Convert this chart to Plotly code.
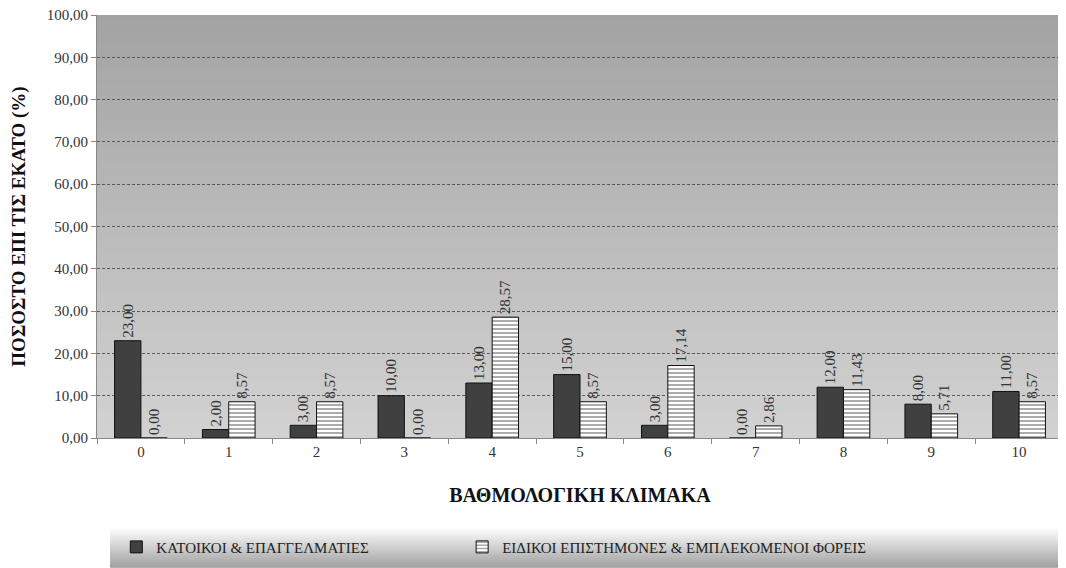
import plotly.graph_objects as go

categories = ["0", "1", "2", "3", "4", "5", "6", "7", "8", "9", "10"]
residents = [23.00, 2.00, 3.00, 10.00, 13.00, 15.00, 3.00, 0.00, 12.00, 8.00, 11.00]
experts = [0.00, 8.57, 8.57, 0.00, 28.57, 8.57, 17.14, 2.86, 11.43, 5.71, 8.57]
series_names = ["ΚΑΤΟΙΚΟΙ & ΕΠΑΓΓΕΛΜΑΤΙΕΣ", "ΕΙΔΙΚΟΙ ΕΠΙΣΤΗΜΟΝΕΣ & ΕΜΠΛΕΚΟΜΕΝΟΙ ΦΟΡΕΙΣ"]
y_ticks = [0, 10, 20, 30, 40, 50, 60, 70, 80, 90, 100]
y_title = "ΠΟΣΟΣΤΟ ΕΠΙ ΤΙΣ ΕΚΑΤΟ (%)"
x_title = "ΒΑΘΜΟΛΟΓΙΚΗ ΚΛΙΜΑΚΑ"

FONT = "Liberation Serif, DejaVu Serif, serif"

def fmt(v):
    return f"{v:.2f}".replace(".", ",")

fig = go.Figure()
fig.add_trace(go.Bar(
    x=categories, y=residents, name=series_names[0], legend="legend",
    marker=dict(color="#404040", line=dict(color="#111111", width=1)),
    text=[fmt(v) for v in residents], textposition="outside", textangle=-90,
    constraintext="none",
    textfont=dict(family=FONT, size=15, color="#333333"), cliponaxis=False,
))
fig.add_trace(go.Bar(
    x=categories, y=experts, name=series_names[1], legend="legend2",
    marker=dict(color="white", line=dict(color="#111111", width=1),
                pattern=dict(shape="-", fgcolor="#111111", bgcolor="white", size=4, solidity=0.35)),
    text=[fmt(v) for v in experts], textposition="outside", textangle=-90,
    constraintext="none",
    textfont=dict(family=FONT, size=15, color="#333333"), cliponaxis=False,
))

shapes = []
n = 80
top = (0xa3, 0xa3, 0xa3)
bot = (0xd2, 0xd2, 0xd2)
for i in range(n):
    t = i / (n - 1)
    c = tuple(int(round(top[k] + (bot[k] - top[k]) * t)) for k in range(3))
    shapes.append(dict(type="rect", xref="paper", yref="paper", x0=0, x1=1,
                       y0=max(0, 1 - (i + 1.6) / n), y1=1 - i / n, layer="below",
                       fillcolor="rgb(%d,%d,%d)" % c, line=dict(width=0)))
ly0, ly1 = -0.307, -0.2104
m = 30
lt = (0xff, 0xff, 0xff)
lb = (0xa0, 0xa0, 0xa0)
for i in range(m):
    t = i / (m - 1)
    c = tuple(int(round(lt[k] + (lb[k] - lt[k]) * t)) for k in range(3))
    shapes.append(dict(type="rect", xref="paper", yref="paper", x0=0.0135, x1=1.01,
                       y0=max(ly0, ly1 - (i + 1.6) * (ly1 - ly0) / m), y1=ly1 - i * (ly1 - ly0) / m,
                       layer="below", fillcolor="rgb(%d,%d,%d)" % c, line=dict(width=0)))

legend_common = dict(orientation="h", y=-0.258, yanchor="middle", xanchor="left",
                     bgcolor="rgba(0,0,0,0)", font=dict(family=FONT, size=15, color="#222222"),
                     itemwidth=30)

fig.update_layout(
    width=1058, height=560,
    margin=dict(l=89, r=3, t=7, b=130, autoexpand=False),
    paper_bgcolor="white",
    plot_bgcolor="rgba(0,0,0,0)",
    separators=",.",
    barmode="group", bargap=0.4, bargroupgap=0,
    font=dict(family=FONT, size=13, color="#333333"),
    shapes=shapes,
    showlegend=True,
    legend=dict(x=0.02, **legend_common),
    legend2=dict(x=0.378, **legend_common),
    xaxis=dict(type="category", tickson="boundaries", ticks="outside", ticklen=5,
               tickcolor="#888888", showline=True, linecolor="#888888", linewidth=1,
               automargin=False,
               tickfont=dict(family=FONT, size=15, color="#333333"),
               title=dict(text=x_title, font=dict(family=FONT, size=20, color="#111111", weight="bold"),
                          standoff=28),
               showgrid=False),
    yaxis=dict(range=[0, 100], tickvals=y_ticks, ticktext=[fmt(v) for v in y_ticks],
               ticks="outside", ticklen=5, tickcolor="#888888",
               showline=True, linecolor="#888888", linewidth=1,
               automargin=False, ticklabeloverflow="allow",
               tickfont=dict(family=FONT, size=15, color="#333333"),
               gridcolor="#5a5a5a", griddash="3px,2px", gridwidth=1,
               zeroline=False,
               title=dict(text=y_title, font=dict(family=FONT, size=19, color="#111111", weight="bold"),
                          standoff=17)),
)

fig.write_html("out.html")
